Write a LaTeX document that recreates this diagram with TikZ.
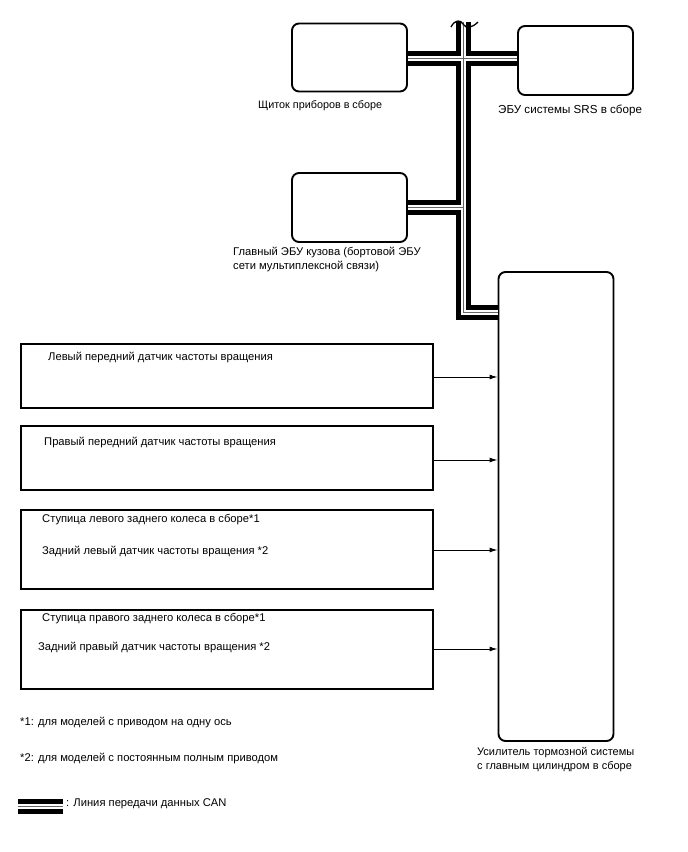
\documentclass[tikz,border=0pt]{standalone}
\usepackage{fontspec}
\setmainfont{Liberation Sans}
\usetikzlibrary{arrows.meta}
\begin{document}
\begin{tikzpicture}[x=1pt,y=-1pt,
  every node/.style={inner sep=0pt, font=\fontsize{11.2}{15}\selectfont},
  ecu/.style={draw, line width=1.9pt, rounded corners=7pt},
  sensor/.style={draw, line width=1.9pt},
  lbl/.style={anchor=west, align=left},
  arr/.style={-{Latex[length=8pt,width=5pt]}, line width=1pt},
  canblack/.style={line width=15pt, black},
  canwhite/.style={line width=5pt, white},
  canthin/.style={line width=0.9pt, black!60}]
\useasboundingbox (0,0) rectangle (688,852);
% ECU boxes
\node[ecu, minimum width=115pt, minimum height=68pt] (ic) at (349.5,57.5) {};
\node[ecu, minimum width=115pt, minimum height=69pt] (srs) at (575.5,60.5) {};
\node[ecu, minimum width=115pt, minimum height=69pt] (bcm) at (349.5,207.5) {};
\node[ecu, minimum width=115pt, minimum height=469pt] (brk) at (556,506.5) {};
% labels
\node[lbl, font=\fontsize{10.8}{15}\selectfont] (icl) at (258,106) {Щиток приборов в сборе};
\node[lbl, font=\fontsize{11.6}{15}\selectfont] (srsl) at (498,110) {ЭБУ системы SRS в сборе};
\node[lbl, anchor=north west, font=\fontsize{11.2}{14}\selectfont] (bcml) at (233,247) {Главный ЭБУ кузова (бортовой ЭБУ\\сети мультиплексной связи)};
\node[lbl, anchor=north west, font=\fontsize{11}{14}\selectfont] (brkl) at (477,747) {Усилитель тормозной системы\\с главным цилиндром в сборе};
% CAN bus coordinates
\coordinate (top) at (463,22);
\coordinate (j1) at (463,58.5);
\coordinate (j2) at (463,207.5);
\coordinate (corner) at (463,312);
\coordinate (bend) at (498,312);
% CAN bus drawing
\foreach \s in {canblack,canwhite,canthin}{
  \draw[\s] (top) -- (corner) -- (brk.west |- bend);
  \draw[\s] (ic.east |- j1) -- (srs.west |- j1);
  \draw[\s] (bcm.east |- j2) -- (j2);
}
% break symbol at top
\draw[line width=1.3pt] (451,27) .. controls (455,19) and (461,20) .. (463,24) .. controls (466,29) and (472,28) .. (478,22);
% sensor boxes
\node[sensor, minimum width=412pt, minimum height=64pt] (s1) at (227,376) {};
\node[sensor, minimum width=412pt, minimum height=64pt] (s2) at (227,458) {};
\node[sensor, minimum width=412pt, minimum height=79pt] (s3) at (227,549.5) {};
\node[sensor, minimum width=412pt, minimum height=79pt] (s4) at (227,649.5) {};
\node[lbl] (t1) at (48,357) {Левый передний датчик частоты вращения};
\node[lbl] (t2) at (44,442) {Правый передний датчик частоты вращения};
\node[lbl] (t3a) at (42,520) {Ступица левого заднего колеса в сборе*1};
\node[lbl] (t3b) at (42,551) {Задний левый датчик частоты вращения *2};
\node[lbl] (t4a) at (42,619) {Ступица правого заднего колеса в сборе*1};
\node[lbl] (t4b) at (38,647) {Задний правый датчик частоты вращения *2};
% arrows
\draw[arr] (s1.east |- 0,377) -- (brk.west |- 0,377);
\draw[arr] (s2.east |- 0,460) -- (brk.west |- 0,460);
\draw[arr] (s3.east |- 0,550) -- (brk.west |- 0,550);
\draw[arr] (s4.east |- 0,649) -- (brk.west |- 0,649);
% footnotes
\node[lbl] (f1) at (20,722) {*1: для моделей с приводом на одну ось};
\node[lbl] (f2) at (20,758) {*2: для моделей с постоянным полным приводом};
% legend
\coordinate (lg1) at (18,806);
\coordinate (lg2) at (63,806);
\draw[canblack] (lg1) -- (lg2);
\draw[canwhite] (lg1) -- (lg2);
\draw[canthin] (lg1) -- (lg2);
\node[lbl] (lgt) at (66,804) {: Линия передачи данных CAN};
\end{tikzpicture}
\end{document}
